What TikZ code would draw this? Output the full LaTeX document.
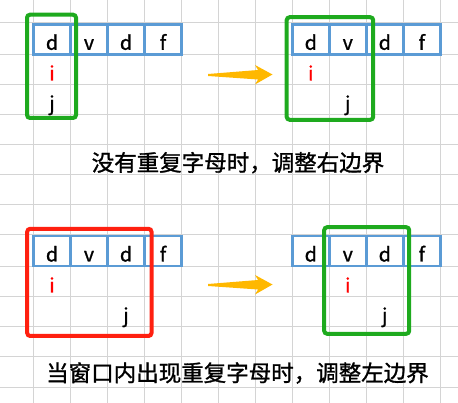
\documentclass[tikz,border=0pt]{standalone}
\usepackage{fontspec}
\setmainfont{Noto Sans CJK SC}
\newfontfamily\cjk[FakeBold=1.2]{Noto Sans CJK SC}
\definecolor{gridgray}{RGB}{212,212,212}
\definecolor{cellblue}{RGB}{91,155,213}
\definecolor{wingreen}{RGB}{30,170,30}
\definecolor{winred}{RGB}{255,32,16}
\definecolor{arrowyellow}{RGB}{255,184,0}

\begin{document}
\begin{tikzpicture}[x=1pt, y=-1pt,
	letter/.style={inner sep=0pt, text height=21pt, text depth=0pt, font=\cjk\fontsize{19.5}{19.5}\selectfont},
	cellbox/.style={letter, draw=cellblue, line width=2.7pt, minimum width=37pt, minimum height=30pt},
	winbox/.style={line width=4pt, rounded corners=3pt},
	caption/.style={inner sep=0pt, font=\cjk\fontsize{22.5}{22.5}\selectfont}]
	\useasboundingbox (0,0) rectangle (458,403);
	
	% spreadsheet grid
	\foreach \k in {0,...,11}
		\draw[gridgray, line width=1pt] ({33.3+37.04*\k},0) -- ({33.3+37.04*\k},403);
	\foreach \y in {23,55,85,115,145,175,205,235,267,297,327,357,387}
		\draw[gridgray, line width=1pt] (0,\y) -- (458,\y);
	
	% top: no repeated letter
	\foreach \l [count=\k] in {d,v,d,f} {
		\node[cellbox] (ta\k) at ({33.5+37*(\k-0.5)},39.3) {\l};
		\node[cellbox] (tb\k) at ({292.3+37*(\k-0.5)},39.3) {\l};
	}
	\node[letter, red] (tai) at (52,70) {i};
	\node[letter] (taj) at (52,100) {j};
	\node[letter, red] (tbi) at (310.8,70) {i};
	\node[letter] (tbj) at (347.8,100) {j};
	\draw[winbox, wingreen] (27,14.7) rectangle (76,118);
	\draw[winbox, wingreen] (286.7,17.2) rectangle (373.2,119.8);
	
	% bottom: repeated letter in window
	\foreach \l [count=\k] in {d,v,d,f} {
		\node[cellbox] (ba\k) at ({33.5+37*(\k-0.5)},251) {\l};
		\node[cellbox] (bb\k) at ({292.3+37*(\k-0.5)},251) {\l};
	}
	\node[letter, red] (bai) at (52,282) {i};
	\node[letter] (baj) at (126,312) {j};
	\node[letter, red] (bbi) at (347.8,282) {i};
	\node[letter] (bbj) at (384.8,312) {j};
	\draw[winbox, winred] (27.2,228.8) rectangle (151.5,336);
	\draw[winbox, wingreen] (324.2,227.2) rectangle (409.2,333.8);
	
	% arrows
	\foreach \dy [count=\n] in {0,210} {
		\coordinate (arr\n) at (208,{75+\dy});
		\fill[arrowyellow] (arr\n) ++(0,-1) -- ++(50,-4) -- ++(-3,-5) -- ++(17.5,9.5)
			-- ++(-17.5,10) -- ++(3,-5) -- ++(-50,-3.5) -- cycle;
	}
	
	\node[caption] (capt) at (238,162.7) {没有重复字母时，调整右边界};
	\node[caption] (capb) at (237.5,373) {当窗口内出现重复字母时，调整左边界};
\end{tikzpicture}
\end{document}
